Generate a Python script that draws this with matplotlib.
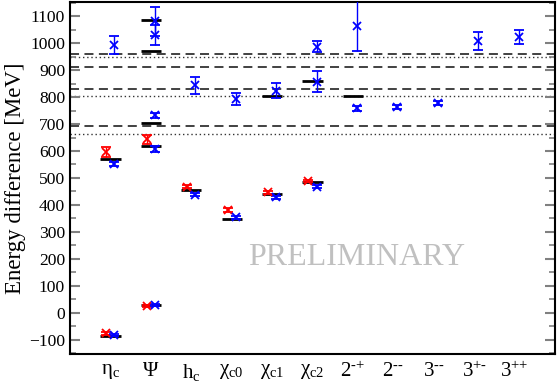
import numpy as np
import matplotlib.pyplot as plt
from matplotlib.ticker import MultipleLocator

plt.rcParams['font.family'] = ['Liberation Serif', 'DejaVu Serif']
plt.rcParams['mathtext.fontset'] = 'custom'
plt.rcParams['mathtext.rm'] = 'Liberation Serif'
plt.rcParams['mathtext.it'] = 'Liberation Serif:italic'

# channel labels (x positions 1..11)
labels = [r'$\mathrm{\eta_c}$', r'$\mathrm{\Psi}$', r'$\mathrm{h_c}$',
          r'$\mathrm{\chi_{c0}}$', r'$\mathrm{\chi_{c1}}$', r'$\mathrm{\chi_{c2}}$',
          r'$\mathrm{2}^{\text{-+}}$', r'$\mathrm{2}^{\text{--}}$', r'$\mathrm{3}^{\text{--}}$',
          r'$\mathrm{3}^{\text{+-}}$', r'$\mathrm{3}^{\text{++}}$']

# red lattice results: channel index, value, error
red_ch = [1, 1, 2, 2, 3, 4, 5, 6]
red_val = [-75, 597, 26, 643, 468, 381, 447, 489]
red_err = [5, 18, 5, 18, 6, 6, 6, 5]

# blue lattice results
blue_ch = [1, 1, 1, 2, 2, 2, 2, 2, 3, 3, 4, 4, 5, 5, 6, 6, 6, 7, 7, 8, 9, 10, 11]
blue_val = [-83, 552, 992, 28, 608, 732, 1080, 1030, 438, 843, 354, 792,
            428, 824, 468, 857, 986, 758, 1063, 764, 779, 1007, 1022]
blue_err = [4, 9, 34, 4, 10, 10, 55, 38, 6, 32, 5, 22,
            6, 29, 6, 40, 21, 8, 92, 8, 8, 33, 26]

# experimental levels
exp_ch = [1, 1, 2, 2, 2, 2, 2, 3, 4, 5, 5, 6, 6, 7]
exp_val = [-85, 569, 28, 617, 705, 971, 1085, 457, 347, 442, 805, 487, 858, 805]

# thresholds
dashed_lines = [694, 828, 912, 960]
dotted_lines = [663, 805, 950]

fig = plt.figure(figsize=(5.57, 3.82), dpi=100)
ax = fig.add_axes([0.1257, 0.0733, 0.8707, 0.9215])

for y in dashed_lines:
    ax.axhline(y, color='#333333', lw=1.3, ls=(0, (5, 3)), zorder=1)
for y in dotted_lines:
    ax.axhline(y, color='#333333', lw=1.0, ls=(0, (1, 2)), zorder=1)

ax.hlines(exp_val, np.array(exp_ch) - 0.25, np.array(exp_ch) + 0.25,
          color='black', lw=2, zorder=2)

ax.errorbar(np.array(red_ch) - 0.1, red_val, yerr=red_err, fmt='x', color='red',
            ms=5.5, mew=1.3, elinewidth=1, capsize=3.5, capthick=1.5, zorder=3)
ax.errorbar(np.array(blue_ch) + 0.1, blue_val, yerr=blue_err, fmt='x', color='blue',
            ms=5.5, mew=1.3, elinewidth=1, capsize=3.5, capthick=1.5, zorder=3)

ax.text(7.08, 205, 'PRELIMINARY', color='#c0c0c0', fontsize=23,
        ha='center', va='center', zorder=0)

ax.set_xlim(0, 12)
ax.set_ylim(-152, 1152)
ax.set_xticks(range(1, 12))
ax.set_xticklabels(labels, fontsize=15)
ax.tick_params(axis='x', length=0, pad=6)
ax.yaxis.set_major_locator(MultipleLocator(100))
ax.yaxis.set_minor_locator(MultipleLocator(50))
ax.tick_params(axis='y', which='both', direction='in', right=True,
               color='#808080', labelsize=12.6)
ax.tick_params(axis='y', which='major', length=7, width=1.5)
ax.tick_params(axis='y', which='minor', length=4, width=1.2)
ax.set_ylabel('Energy difference [MeV]', fontsize=16.5, labelpad=2)
for s in ax.spines.values():
    s.set_linewidth(1.5)

fig.savefig('out.png', dpi=100)
